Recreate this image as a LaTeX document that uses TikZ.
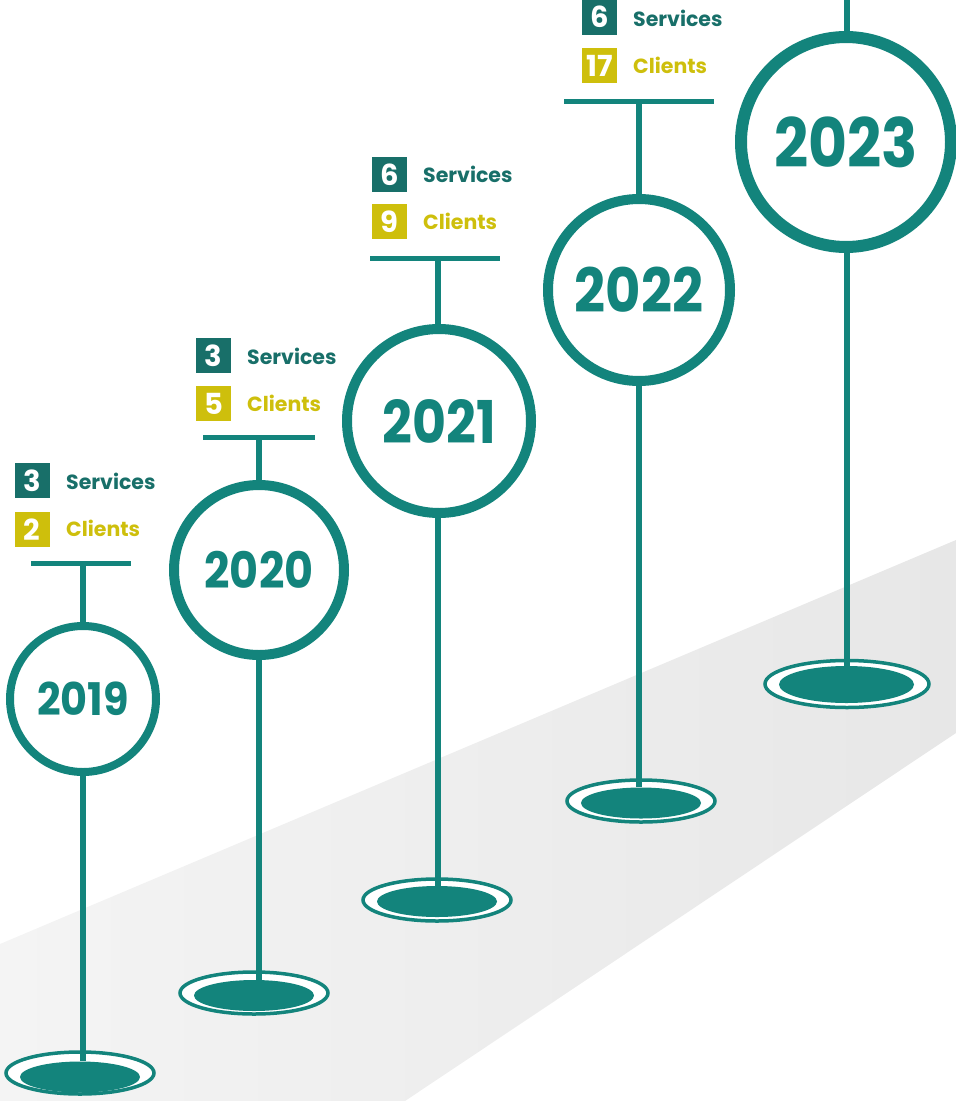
\documentclass[tikz,border=0pt]{standalone}
\usepackage{fontspec}
\setmainfont{Poppins}
\usetikzlibrary{shapes.geometric}
\definecolor{teal}{HTML}{13847C}
\definecolor{dteal}{HTML}{186F69}
\definecolor{ylw}{HTML}{CEBF0C}
\definecolor{bandl}{HTML}{F4F4F4}
\definecolor{bandr}{HTML}{E7E7E7}
\tikzset{
  yearc/.style={circle,draw=teal,fill=white,inner sep=0pt,text=teal,font=\bfseries},
  stem/.style={draw=teal,line width=6pt},
  tbar/.style={draw=teal,line width=5pt},
  ringo/.style={ellipse,draw=teal,fill=white,line width=3.5pt,inner sep=0pt,minimum width=148pt,minimum height=42pt},
  ringi/.style={ellipse,fill=teal,inner sep=0pt,minimum width=120pt,minimum height=31pt},
  sq/.style={rectangle,inner sep=0pt,minimum width=35pt,minimum height=35pt,text=white,font=\bfseries\fontsize{29}{29}\selectfont},
  sqs/.style={sq,fill=dteal},
  sqc/.style={sq,fill=ylw},
  lab/.style={anchor=west,inner sep=0pt,font=\bfseries\fontsize{20.5}{20.5}\selectfont},
  labs/.style={lab,text=dteal},
  labc/.style={lab,text=ylw}
}
\begin{document}
\begin{tikzpicture}[x=1pt,y=-1pt]
\useasboundingbox (0,0) rectangle (956,1101);
\shade[left color=bandl,right color=bandr] (0,944) -- (956,540) -- (956,733) -- (405,1101) -- (0,1101) -- cycle;

% base ellipses
\node[ringo] (o2019) at (80,1073) {};
\node[ringi] (i2019) at (80,1077) {};
\node[ringo] (o2020) at (254,993) {};
\node[ringi] (i2020) at (254,995.5) {};
\node[ringo] (o2021) at (437,900) {};
\node[ringi] (i2021) at (437,901.5) {};
\node[ringo] (o2022) at (641,801) {};
\node[ringi] (i2022) at (641,803) {};
\node[ringo,minimum width=164pt,minimum height=47pt] (o2023) at (847,684) {};
\node[ringi,minimum width=135pt,minimum height=37pt] (i2023) at (846.5,684.5) {};

% year circles
\node[yearc,line width=8pt,minimum size=146pt,font=\bfseries\fontsize{45}{45}\selectfont] (c2019) at (83,699) {\scalebox{0.92}[1]{2019}};
\node[yearc,line width=10pt,minimum size=170pt,font=\bfseries\fontsize{50}{50}\selectfont] (c2020) at (259,570) {\scalebox{0.89}[1]{2020}};
\node[yearc,line width=10pt,minimum size=184pt,font=\bfseries\fontsize{59}{59}\selectfont] (c2021) at (439,421) {\scalebox{0.885}[1]{2021}};
\node[yearc,line width=10pt,minimum size=182pt,font=\bfseries\fontsize{61}{61}\selectfont] (c2022) at (639,290) {\scalebox{0.89}[1]{2022}};
\node[yearc,line width=12pt,minimum size=210pt,font=\bfseries\fontsize{68}{68}\selectfont] (c2023) at (846,142) {\scalebox{0.88}[1]{2023}};

% bars
\coordinate (bl2019) at (31,563); \coordinate (br2019) at (131,563);
\coordinate (bl2020) at (203,437); \coordinate (br2020) at (315,437);
\coordinate (bl2021) at (370,258); \coordinate (br2021) at (500,258);
\coordinate (bl2022) at (564,101); \coordinate (br2022) at (714,101);
\coordinate (top2023) at (847,-3);
\draw[tbar] (bl2019) -- (br2019);
\draw[tbar] (bl2020) -- (br2020);
\draw[tbar] (bl2021) -- (br2021);
\draw[tbar] (bl2022) -- (br2022);

% stems
\draw[stem] (c2019.north) -- (c2019.north |- bl2019);
\draw[stem] (c2020.north) -- (c2020.north |- bl2020);
\draw[stem] ([xshift=-1pt]c2021.north) -- ([xshift=-1pt]c2021.north |- bl2021);
\draw[stem] (c2022.north) -- (c2022.north |- bl2022);
\draw[stem] ([xshift=1pt]c2023.north) -- (top2023);
\draw[stem] (c2019.south) -- (c2019.south |- i2019.north);
\draw[stem] (c2020.south) -- (c2020.south |- i2020.north);
\draw[stem] ([xshift=-1pt]c2021.south) -- ([xshift=-1pt]c2021.south |- i2021.north);
\draw[stem] (c2022.south) -- (c2022.south |- i2022.north);
\draw[stem] ([xshift=1pt]c2023.south) -- ([xshift=1pt]c2023.south |- i2023.north);

% labels
\node[sqs] (s2019) at (32,480.5) {3};
\node[labs] (ls2019) at (66,481) {Services};
\node[sqc] (k2019) at (32,529.5) {2};
\node[labc] (lc2019) at (66,528) {Clients};

\node[sqs] (s2020) at (213.5,355.5) {3};
\node[labs] (ls2020) at (247,356) {Services};
\node[sqc] (k2020) at (213.5,403.5) {5};
\node[labc] (lc2020) at (247,403) {Clients};

\node[sqs] (s2021) at (389.5,174.5) {6};
\node[labs] (ls2021) at (423,174) {Services};
\node[sqc] (k2021) at (389.5,221.5) {9};
\node[labc] (lc2021) at (423,221) {Clients};

\node[sqs] (s2022) at (599.5,17) {6};
\node[labs] (ls2022) at (633,18) {Services};
\node[sqc] (k2022) at (599.5,65.5) {17};
\node[labc] (lc2022) at (633,65) {Clients};
\end{tikzpicture}
\end{document}
